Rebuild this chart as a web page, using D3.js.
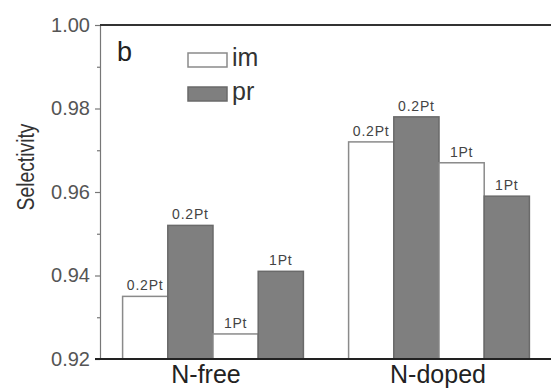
<!DOCTYPE html>
<html>
<head>
<meta charset="utf-8">
<script src="https://cdn.jsdelivr.net/npm/d3@7"></script>
<style>
  body { margin: 0; background: #fff; }
  text { font-family: "Liberation Sans", Arial, sans-serif; }
</style>
</head>
<body>
<svg class="chart"></svg>
<script>
// data
var groups = ["N-free", "N-doped"];
var barSeries = ["im", "pr", "im", "pr"];
var barLabels = ["0.2Pt", "0.2Pt", "1Pt", "1Pt"];
var nFree = [0.935, 0.952, 0.926, 0.941];
var nDoped = [0.972, 0.978, 0.967, 0.959];
var yTicks = [0.92, 0.94, 0.96, 0.98, 1.00];
var yMinor = [0.93, 0.95, 0.97, 0.99];

var gwidth = 551, gheight = 389;
var margin = {top: 25, right: -1, bottom: 30, left: 100},
    width = gwidth - margin.left - margin.right,
    height = gheight - margin.top - margin.bottom;

var svg = d3.select(".chart")
  .attr("width", gwidth)
  .attr("height", gheight);
var chart = svg.append("g")
  .attr("transform", "translate(" + margin.left + "," + margin.top + ")");

var x = d3.scaleLinear().domain([0.5, 2.5]).range([0, width]);
var y = d3.scaleLinear().domain([0.92, 1.00]).range([height, 0]);
var fills = {im: "#ffffff", pr: "#7f7f7f"};
var strokes = {im: "#8a8a8a", pr: "#6a6a6a"};

// flatten the two groups into bar records
var bars = [];
[nFree, nDoped].forEach(function(vals, gi) {
  vals.forEach(function(v, i) {
    bars.push({g: gi + 1, i: i, value: v, series: barSeries[i], label: barLabels[i]});
  });
});
var bw = 0.2;

var barg = chart.selectAll(".bar").data(bars).enter().append("g").attr("class", "bar");
barg.append("rect")
  .attr("x", function(d) { return x(d.g - 0.4 + d.i * bw); })
  .attr("y", function(d) { return y(d.value); })
  .attr("width", function(d) { return x(d.g - 0.4 + (d.i + 1) * bw) - x(d.g - 0.4 + d.i * bw); })
  .attr("height", function(d) { return y(0.92) - y(d.value); })
  .attr("fill", function(d) { return fills[d.series]; })
  .attr("stroke", function(d) { return strokes[d.series]; })
  .attr("stroke-width", 1.5);
barg.append("text")
  .attr("x", function(d) { return x(d.g - 0.4 + (d.i + 0.5) * bw); })
  .attr("y", function(d) { return y(d.value) - 6; })
  .attr("text-anchor", "middle")
  .attr("font-size", "14px")
  .attr("letter-spacing", "0.8px")
  .attr("fill", "#444")
  .text(function(d) { return d.label; });

// axes
var yAxis = d3.axisLeft(y).tickValues(yTicks).tickSize(5).tickPadding(5)
  .tickFormat(d3.format(".2f"));
var ya = chart.append("g").call(yAxis);
ya.select(".domain").attr("stroke", "#777").attr("stroke-width", 1.2);
ya.selectAll(".tick line").attr("stroke", "#777").attr("stroke-width", 1.2);
ya.selectAll(".tick text").attr("font-size", "20px").attr("fill", "#555")
  .attr("font-family", "Liberation Sans, Arial, sans-serif");
chart.append("g").call(d3.axisLeft(y).tickValues(yMinor).tickSize(3).tickFormat(""))
  .call(function(g) { g.select(".domain").remove(); })
  .selectAll("line").attr("stroke", "#777").attr("stroke-width", 1.2);

chart.append("line").attr("x1", 0).attr("x2", width).attr("y1", 0).attr("y2", 0)
  .attr("stroke", "#333").attr("stroke-width", 2);
chart.append("line").attr("x1", -5).attr("x2", width).attr("y1", height).attr("y2", height)
  .attr("stroke", "#222").attr("stroke-width", 2);

// group labels
var gOffsets = [-7, -1];
chart.selectAll(".glabel").data(groups).enter().append("text")
  .attr("x", function(d, i) { return x(i + 1) + gOffsets[i]; })
  .attr("y", height + 24)
  .attr("text-anchor", "middle")
  .attr("font-size", "25px")
  .attr("fill", "#222")
  .text(function(d) { return d; });

// axis title
svg.append("text")
  .attr("transform", "translate(34,167) rotate(-90)")
  .attr("text-anchor", "middle")
  .attr("font-size", "23px")
  .attr("textLength", 87)
  .attr("lengthAdjust", "spacingAndGlyphs")
  .attr("fill", "#333")
  .text("Selectivity");

// panel letter
svg.append("text").attr("x", 117).attr("y", 61)
  .attr("font-size", "27px").attr("fill", "#222").text("b");

// legend
var legend = ["im", "pr"];
var lg = svg.selectAll(".legend").data(legend).enter().append("g")
  .attr("transform", function(d, i) { return "translate(188," + (53 + i * 34) + ")"; });
lg.append("rect").attr("width", 39).attr("height", 14)
  .attr("fill", function(d) { return fills[d]; })
  .attr("stroke", function(d) { return strokes[d]; })
  .attr("stroke-width", 1.5);
lg.append("text").attr("x", 44).attr("y", 13)
  .attr("font-size", "25px").attr("fill", "#333")
  .text(function(d) { return d; });
</script>
</body>
</html>
